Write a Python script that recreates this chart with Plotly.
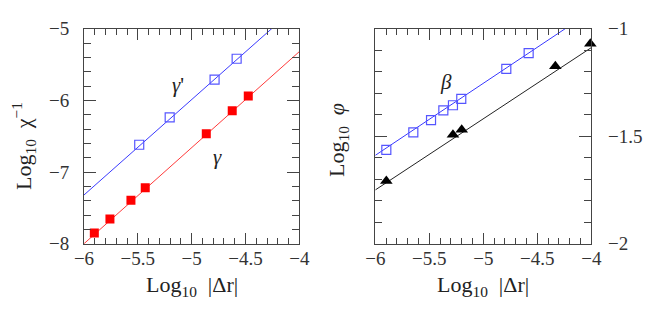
import numpy as np
import plotly.graph_objects as go

# ---- data (left panel: inverse susceptibility) ----
gamma_x = [-5.904, -5.759, -5.564, -5.431, -4.864, -4.623, -4.474]
gamma_y = [-7.851, -7.655, -7.394, -7.219, -6.465, -6.144, -5.939]
gammap_x = [-5.487, -5.204, -4.787, -4.582]
gammap_y = [-6.619, -6.237, -5.711, -5.419]
gamma_fit = (1.34, -8.0)      # slope, value at x=-6
gammap_fit = (1.331, -7.32)

# ---- data (right panel: order parameter) ----
beta_x = [-5.898, -5.648, -5.484, -5.370, -5.281, -5.204, -4.787, -4.580]
beta_y = [-1.564, -1.482, -1.425, -1.380, -1.356, -1.326, -1.187, -1.114]
tri_x = [-5.898, -5.281, -5.200, -4.333, -4.009]
tri_y = [-1.708, -1.493, -1.470, -1.175, -1.070]
beta_fit = (0.335, -1.589)
tri_fit = (0.331, -1.750)

xticks = [-6, -5.5, -5, -4.5, -4]
xticklabels = ["−6", "−5.5", "−5", "−4.5", "−4"]
yticks_left = [-8, -7, -6, -5]
yticklabels_left = ["−8", "−7", "−6", "−5"]
yticks_right = [-2, -1.5, -1]
yticklabels_right = ["−2", "−1.5", "−1"]

FONT = "Liberation Serif"
W, H = 654, 313

fig = go.Figure()

def fit_line(fit, x0=-6.0, x1=-4.0):
    xs = np.linspace(x0, x1, 50)
    return xs, fit[1] + fit[0] * (xs - x0)

# left panel
xs, ys = fit_line(gammap_fit)
fig.add_trace(go.Scatter(x=xs, y=ys, mode="lines", line=dict(color="#3a3aff", width=1),
                         xaxis="x", yaxis="y", showlegend=False, hoverinfo="skip"))
xs, ys = fit_line(gamma_fit)
fig.add_trace(go.Scatter(x=xs, y=ys, mode="lines", line=dict(color="#ff3a3a", width=1),
                         xaxis="x", yaxis="y", showlegend=False, hoverinfo="skip"))
fig.add_trace(go.Scatter(x=gammap_x, y=gammap_y, mode="markers",
                         marker=dict(symbol="square-open", size=9, color="#5555ff", line=dict(width=1.2)),
                         xaxis="x", yaxis="y", showlegend=False))
fig.add_trace(go.Scatter(x=gamma_x, y=gamma_y, mode="markers",
                         marker=dict(symbol="square", size=9, color="#ff0000", line=dict(width=0)),
                         xaxis="x", yaxis="y", showlegend=False))

# right panel
xs, ys = fit_line(beta_fit)
fig.add_trace(go.Scatter(x=xs, y=ys, mode="lines", line=dict(color="#3a3aff", width=1),
                         xaxis="x2", yaxis="y2", showlegend=False, hoverinfo="skip"))
xs, ys = fit_line(tri_fit)
fig.add_trace(go.Scatter(x=xs, y=ys, mode="lines", line=dict(color="#222222", width=1),
                         xaxis="x2", yaxis="y2", showlegend=False, hoverinfo="skip"))
fig.add_trace(go.Scatter(x=beta_x, y=beta_y, mode="markers",
                         marker=dict(symbol="square-open", size=9, color="#5555ff", line=dict(width=1.2)),
                         xaxis="x2", yaxis="y2", showlegend=False, cliponaxis=False))
fig.add_trace(go.Scatter(x=tri_x, y=tri_y, mode="markers",
                         marker=dict(symbol="triangle-up", size=11, color="#000000", line=dict(width=0)),
                         xaxis="x2", yaxis="y2", showlegend=False, cliponaxis=False))

top, bottom = 28.7, 243.7
ydom = [1 - bottom / H, 1 - top / H]

axcol = "#444444"
tickfont = dict(family=FONT, size=19, color="#333")
common_x = dict(range=[-6, -4], tickvals=xticks, ticktext=xticklabels, ticks="inside",
                ticklen=11, tickcolor=axcol, tickwidth=1, showline=True, linecolor=axcol,
                linewidth=1, mirror="allticks", showgrid=False, zeroline=False, automargin=False,
                minor=dict(dtick=0.1, tick0=-6, ticks="inside", ticklen=6, tickcolor=axcol, tickwidth=1),
                tickfont=tickfont, ticklabelstandoff=-3)
fig.update_layout(
    width=W, height=H, margin=dict(l=0, r=0, t=0, b=0),
    plot_bgcolor="white", paper_bgcolor="white",
    xaxis=dict(domain=[84 / W, 299.3 / W], anchor="y", **common_x),
    xaxis2=dict(domain=[375.3 / W, 591.3 / W], anchor="y2", **common_x),
    yaxis=dict(domain=ydom, anchor="x", range=[-8, -5], tickvals=yticks_left,
               ticktext=yticklabels_left, ticks="inside", ticklen=12, tickcolor=axcol,
               showline=True, linecolor=axcol, linewidth=1, mirror="allticks",
               showgrid=False, zeroline=False, automargin=False,
               minor=dict(dtick=0.2, tick0=-8, ticks="inside", ticklen=7, tickcolor=axcol),
               tickfont=tickfont, ticklabelstandoff=10),
    yaxis2=dict(domain=ydom, anchor="x2", side="right", range=[-2, -1], tickvals=yticks_right,
                ticktext=yticklabels_right, ticks="inside", ticklen=12, tickcolor=axcol,
                showline=True, linecolor=axcol, linewidth=1, mirror="allticks",
                showgrid=False, zeroline=False, automargin=False,
                minor=dict(dtick=0.1, tick0=-2, ticks="inside", ticklen=7, tickcolor=axcol),
                tickfont=tickfont, ticklabelstandoff=12),
)

tfont = dict(family=FONT, size=22, color="#222")
fig.add_annotation(text="Log<sub>10</sub>  |Δr|", x=191.7 / W, y=1 - 286 / H, xref="paper", yref="paper",
                   showarrow=False, font=tfont, xanchor="center", yanchor="middle")
fig.add_annotation(text="Log<sub>10</sub>  |Δr|", x=483 / W, y=1 - 286 / H, xref="paper", yref="paper",
                   showarrow=False, font=tfont, xanchor="center", yanchor="middle")
fig.add_annotation(text="Log<sub>10</sub>  χ<sup>−1</sup>", x=23 / W, y=1 - 146 / H, xref="paper", yref="paper",
                   showarrow=False, font=tfont, textangle=-90, xanchor="center", yanchor="middle")
fig.add_annotation(text="Log<sub>10</sub>  <i>φ</i>", x=338 / W, y=1 - 140 / H, xref="paper", yref="paper",
                   showarrow=False, font=tfont, textangle=-90, xanchor="center", yanchor="middle")

lfont = dict(family=FONT, size=21, color="#222")
fig.add_annotation(text="<i>γ</i>'", x=-5.127, y=-5.786, xref="x", yref="y", showarrow=False, font=lfont)
fig.add_annotation(text="<i>γ</i>", x=-4.757, y=-6.79, xref="x", yref="y", showarrow=False, font=lfont)
fig.add_annotation(text="<i>β</i>", x=-5.345, y=-1.246, xref="x2", yref="y2", showarrow=False, font=lfont)

fig.write_html("out.html", config={"displayModeBar": False},
               post_script="document.body.style.margin='0';")
